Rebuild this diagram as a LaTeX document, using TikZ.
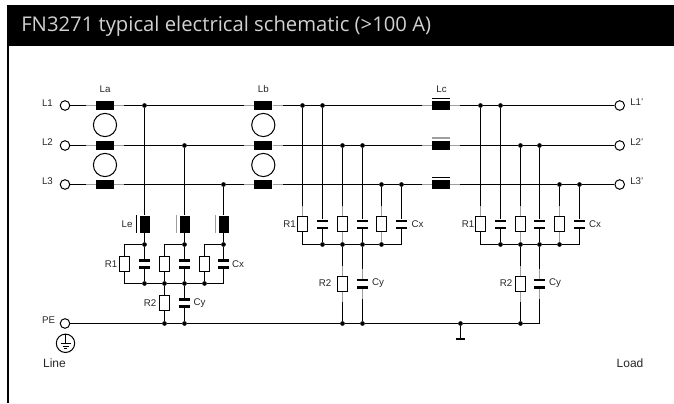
\documentclass[tikz,border=0pt]{standalone}
\usepackage{fontspec}
\setmainfont{Liberation Sans}
\newfontfamily\titlefont{Open Sans}
\definecolor{leadgray}{gray}{0.62}
\definecolor{titlegray}{gray}{0.82}
\tikzset{
	wire/.style={line width=0.8pt,black},
	lead/.style={line width=1.1pt,leadgray},
	term/.style={circle,draw,fill=white,line width=0.75pt,inner sep=0pt,minimum size=7.2pt},
	jdot/.style={circle,fill=black,inner sep=0pt,minimum size=3.5pt},
	ring/.style={circle,draw,line width=0.75pt,inner sep=0pt,minimum size=17.4pt},
	indh/.style={rectangle,fill=black,inner sep=0pt,minimum width=13.5pt,minimum height=7.2pt},
	indv/.style={rectangle,fill=black,inner sep=0pt,minimum width=7.5pt,minimum height=12.8pt},
	res/.style={rectangle,draw,fill=white,line width=0.75pt,inner sep=0pt,minimum width=6.9pt,minimum height=11.2pt},
	capa/.style={rectangle,inner sep=0pt,minimum width=8.6pt,minimum height=7.2pt,
		path picture={
			\fill (path picture bounding box.north west) rectangle ([yshift=-1.9pt]path picture bounding box.north east);
			\fill (path picture bounding box.south west) rectangle ([yshift=1.9pt]path picture bounding box.south east);
		}},
	lbl/.style={inner sep=0pt,text=black!85,font=\fontsize{7.3}{8}\selectfont},
	biglbl/.style={inner sep=0pt,text=black!85,font=\fontsize{9}{10}\selectfont},
}
\begin{document}
\begin{tikzpicture}[x=0.75pt,y=-0.75pt]
	\useasboundingbox (0,0) rectangle (674,403);

	% The Header
	\fill[black] (7,5) rectangle (674,46.5);
	\fill[black] (7,46.5) rectangle (9,403);
	\node[inner sep=0pt,anchor=west,text=titlegray,font=\titlefont\fontsize{15.2}{17}\selectfont] (title) at (21,26) {FN3271 typical electrical schematic (>100 A)};

	% Terminals
	\node[term] (L1in) at (65,105.5) {};
	\node[term] (L2in) at (65,145.5) {};
	\node[term] (L3in) at (65,184.5) {};
	\node[term] (PEin) at (65,323.5) {};
	\node[term] (L1out) at (619.7,105.5) {};
	\node[term] (L2out) at (619.7,145.5) {};
	\node[term] (L3out) at (619.7,184.5) {};
	\node[lbl] (tL1) at (47.5,103) {L1};
	\node[lbl] (tL2) at (47.5,142) {L2};
	\node[lbl] (tL3) at (47.5,181) {L3};
	\node[lbl] (tPE) at (48.5,320.5) {PE};
	\node[lbl,anchor=west] (tL1o) at (630,102) {L1'};
	\node[lbl,anchor=west] (tL2o) at (630,142) {L2'};
	\node[lbl,anchor=west] (tL3o) at (630,181.5) {L3'};

	% Earth symbol
	\node[circle,draw,line width=0.75pt,inner sep=0pt,minimum size=13.8pt] (earth) at (65.5,343.3) {};
	\draw[line width=0.6pt] (earth.north) -- (earth.center);
	\draw[line width=0.6pt] (60.5,343.5) -- (70.5,343.5);
	\draw[line width=0.6pt] (62.5,346) -- (68.5,346);
	\draw[line width=0.6pt] (64,348.5) -- (67,348.5);
	\node[biglbl] (line) at (54.5,363) {Line};
	\node[biglbl] (load) at (630,363) {Load};

	% Chokes La, Lb, Lc
	\node[indh] (La1) at (105,105.5) {};
	\node[indh] (La2) at (105,145.5) {};
	\node[indh] (La3) at (105,184.5) {};
	\node[indh] (Lb1) at (263.3,105.5) {};
	\node[indh] (Lb2) at (263.3,145.5) {};
	\node[indh] (Lb3) at (263.3,184.5) {};
	\node[indh] (Lc1) at (441,105.5) {};
	\node[indh] (Lc2) at (441,145.5) {};
	\node[indh] (Lc3) at (441,184.5) {};
	\node[ring] (RaA) at (105,125) {};
	\node[ring] (RaB) at (105,165) {};
	\node[ring] (RbA) at (263.3,125) {};
	\node[ring] (RbB) at (263.3,165) {};
	\node[lbl] (tLa) at (105,89) {La};
	\node[lbl] (tLb) at (263.3,89) {Lb};
	\node[lbl] (tLc) at (441.5,89) {Lc};
	\draw[line width=0.75pt] ([yshift=1.8pt]Lc1.north west) -- ([yshift=1.8pt]Lc1.north east);
	\draw[lead] ([yshift=1.8pt]Lc2.north west) -- ([yshift=1.8pt]Lc2.north east);
	\draw[line width=0.75pt] ([yshift=1.8pt]Lc3.north west) -- ([yshift=1.8pt]Lc3.north east);

	% Stage 1
	\node[jdot] (Da1) at (144.5,105.5) {};
	\node[jdot] (Da2) at (184.5,145.5) {};
	\node[jdot] (Da3) at (223.5,184.5) {};
	\node[indv] (Le1) at (144.5,224.2) {};
	\node[indv] (Le2) at (184.5,224.2) {};
	\node[indv] (Le3) at (223.5,224.2) {};
	\draw[line width=0.75pt] ([xshift=-1.9pt]Le1.north west) -- ([xshift=-1.9pt]Le1.south west);
	\draw[lead] ([xshift=-1.9pt]Le2.north west) -- ([xshift=-1.9pt]Le2.south west);
	\draw[lead] ([xshift=-1.9pt]Le3.north west) -- ([xshift=-1.9pt]Le3.south west);
	\node[jdot] (Ea1) at (144.5,244.5) {};
	\node[jdot] (Ea2) at (184.5,244.5) {};
	\node[jdot] (Ea3) at (223.5,244.5) {};
	\node[res] (Ra1) at (124.5,264) {};
	\node[res] (Ra2) at (164.5,264) {};
	\node[res] (Ra3) at (204.5,264) {};
	\node[capa] (Ca1) at (144.5,263.8) {};
	\node[capa] (Ca2) at (184.5,263.8) {};
	\node[capa] (Ca3) at (223.5,263.8) {};
	\node[jdot] (Ba1) at (144.5,283.5) {};
	\node[jdot] (Ba2) at (164.5,283.5) {};
	\node[jdot] (Ba3) at (184.5,283.5) {};
	\node[jdot] (Ba4) at (204.5,283.5) {};
	\node[res] (Sa) at (164.5,303.3) {};
	\node[capa] (Ya) at (184.5,303) {};
	\node[jdot] (Pa1) at (164.5,323.5) {};
	\node[jdot] (Pa2) at (184.5,323.5) {};
	\node[lbl] (tLe) at (127,224.5) {Le};
	\node[lbl] (tR1a) at (111,264.5) {R1};
	\node[lbl] (tCxa) at (238,264.5) {Cx};
	\node[lbl] (tR2a) at (150,303.5) {R2};
	\node[lbl] (tCya) at (199.5,303.5) {Cy};

	% Stage 2
	\node[jdot] (Db1) at (302.5,105.5) {};
	\node[jdot] (Db2) at (322.5,105.5) {};
	\node[jdot] (Db3) at (342.5,145.5) {};
	\node[jdot] (Db4) at (362.5,145.5) {};
	\node[jdot] (Db5) at (381.5,184.5) {};
	\node[jdot] (Db6) at (401.5,184.5) {};
	\node[res] (Rb1) at (302.5,224.2) {};
	\node[res] (Rb2) at (342.5,224.2) {};
	\node[res] (Rb3) at (381.5,224.2) {};
	\node[capa] (Cb1) at (322.5,224.3) {};
	\node[capa] (Cb2) at (362.5,224.3) {};
	\node[capa] (Cb3) at (401.5,224.3) {};
	\node[jdot] (Bb1) at (322.5,244.5) {};
	\node[jdot] (Bb2) at (342.5,244.5) {};
	\node[jdot] (Bb3) at (362.5,244.5) {};
	\node[jdot] (Bb4) at (381.5,244.5) {};
	\node[res] (Sb) at (342.5,284) {};
	\node[capa] (Yb) at (362.5,283.7) {};
	\node[jdot] (Pb1) at (342.5,323.5) {};
	\node[jdot] (Pb2) at (362.5,323.5) {};
	\node[lbl] (tR1b) at (289.5,224.5) {R1};
	\node[lbl] (tCxb) at (417.5,224.5) {Cx};
	\node[lbl] (tR2b) at (325,283.5) {R2};
	\node[lbl] (tCyb) at (378,283.5) {Cy};

	% Stage 3
	\node[jdot] (Dc1) at (480.5,105.5) {};
	\node[jdot] (Dc2) at (500.5,105.5) {};
	\node[jdot] (Dc3) at (520.5,145.5) {};
	\node[jdot] (Dc4) at (539.5,145.5) {};
	\node[jdot] (Dc5) at (559.5,184.5) {};
	\node[jdot] (Dc6) at (579.5,184.5) {};
	\node[res] (Rc1) at (480.5,224.2) {};
	\node[res] (Rc2) at (520.5,224.2) {};
	\node[res] (Rc3) at (559.5,224.2) {};
	\node[capa] (Cc1) at (500.5,224.3) {};
	\node[capa] (Cc2) at (539.5,224.3) {};
	\node[capa] (Cc3) at (579.5,224.3) {};
	\node[jdot] (Bc1) at (500.5,244.5) {};
	\node[jdot] (Bc2) at (520.5,244.5) {};
	\node[jdot] (Bc3) at (539.5,244.5) {};
	\node[jdot] (Bc4) at (559.5,244.5) {};
	\node[res] (Sc) at (520.5,284) {};
	\node[capa] (Yc) at (539.5,283.7) {};
	\node[jdot] (Pc) at (520.5,323.5) {};
	\node[lbl] (tR1c) at (468,224.5) {R1};
	\node[lbl] (tCxc) at (595,224.5) {Cx};
	\node[lbl] (tR2c) at (506,283.5) {R2};
	\node[lbl] (tCyc) at (555,283.5) {Cy};

	% Ground stub
	\node[jdot] (Gd) at (460.5,323.5) {};
	\node[rectangle,fill=black,inner sep=0pt,minimum width=7.4pt,minimum height=1.6pt] (Gb) at (460.5,339.2) {};

	% The Lines
	\draw[wire] (L1in) -- (La1) -- (Da1) -- (Lb1) -- (Db1) -- (Db2) -- (Lc1) -- (Dc1) -- (Dc2) -- (L1out);
	\draw[wire] (L2in) -- (La2) -- (Da2) -- (Lb2) -- (Db3) -- (Db4) -- (Lc2) -- (Dc3) -- (Dc4) -- (L2out);
	\draw[wire] (L3in) -- (La3) -- (Da3) -- (Lb3) -- (Db5) -- (Db6) -- (Lc3) -- (Dc5) -- (Dc6) -- (L3out);
	\draw[wire] (PEin) -- (Pa1) -- (Pa2) -- (Pb1) -- (Pb2) -- (Gd) -- (Pc) -| (Yc);
	\draw[wire] (Gd) -- (Gb);

	% Wires stage 1
	\draw[wire] (Da1) -- (Le1) -- (Ea1) -- (Ca1) -- (Ba1);
	\draw[wire] (Da2) -- (Le2) -- (Ea2) -- (Ca2) -- (Ba3);
	\draw[wire] (Da3) -- (Le3) -- (Ea3) -- (Ca3);
	\draw[wire] (Ea1) -| (Ra1);
	\draw[wire] (Ea2) -| (Ra2);
	\draw[wire] (Ea3) -| (Ra3);
	\draw[wire] (Ra1) |- (Ba1);
	\draw[wire] (Ra2) -- (Ba2);
	\draw[wire] (Ra3) -- (Ba4);
	\draw[wire] (Ba1) -- (Ba2) -- (Ba3) -- (Ba4) -| (Ca3);
	\draw[wire] (Ba2) -- (Sa) -- (Pa1);
	\draw[wire] (Ba3) -- (Ya) -- (Pa2);

	% Wires stage 2
	\draw[wire] (Db1) -- (Rb1);
	\draw[wire] (Db2) -- (Cb1) -- (Bb1);
	\draw[wire] (Db3) -- (Rb2) -- (Bb2);
	\draw[wire] (Db4) -- (Cb2) -- (Bb3);
	\draw[wire] (Db5) -- (Rb3) -- (Bb4);
	\draw[wire] (Db6) -- (Cb3);
	\draw[wire] (Rb1) |- (Bb1);
	\draw[wire] (Bb1) -- (Bb2) -- (Bb3) -- (Bb4) -| (Cb3);
	\draw[wire] (Bb2) -- (Sb) -- (Pb1);
	\draw[wire] (Bb3) -- (Yb) -- (Pb2);

	% Wires stage 3
	\draw[wire] (Dc1) -- (Rc1);
	\draw[wire] (Dc2) -- (Cc1) -- (Bc1);
	\draw[wire] (Dc3) -- (Rc2) -- (Bc2);
	\draw[wire] (Dc4) -- (Cc2) -- (Bc3);
	\draw[wire] (Dc5) -- (Rc3) -- (Bc4);
	\draw[wire] (Dc6) -- (Cc3);
	\draw[wire] (Rc1) |- (Bc1);
	\draw[wire] (Bc1) -- (Bc2) -- (Bc3) -- (Bc4) -| (Cc3);
	\draw[wire] (Bc2) -- (Sc) -- (Pc);
	\draw[wire] (Bc3) -- (Yc);

	% Grey leads on the chokes
	\draw[lead] (La1.west) -- ++(-10,0) (La1.east) -- ++(10,0);
	\draw[lead] (La2.west) -- ++(-10,0) (La2.east) -- ++(10,0);
	\draw[lead] (La3.west) -- ++(-10,0) (La3.east) -- ++(10,0);
	\draw[lead] (Lb1.west) -- ++(-10,0) (Lb1.east) -- ++(10,0);
	\draw[lead] (Lb2.west) -- ++(-10,0) (Lb2.east) -- ++(10,0);
	\draw[lead] (Lb3.west) -- ++(-10,0) (Lb3.east) -- ++(10,0);
	\draw[lead] (Lc1.west) -- ++(-10,0) (Lc1.east) -- ++(10,0);
	\draw[lead] (Lc2.west) -- ++(-10,0) (Lc2.east) -- ++(10,0);
	\draw[lead] (Lc3.west) -- ++(-10,0) (Lc3.east) -- ++(10,0);

	% Grey leads on the lower parts
	\draw[lead] (Rb1.north) -- ++(0,-10) (Rb2.north) -- ++(0,-10) (Rb2.south) -- ++(0,10) (Rb3.north) -- ++(0,-10) (Rb3.south) -- ++(0,10);
	\draw[lead] (Sb.north) -- ++(0,-10) (Sb.south) -- ++(0,10) (Yb.north) -- ++(0,-10) (Yb.south) -- ++(0,10);
	\draw[lead] (Rc1.north) -- ++(0,-10) (Rc2.north) -- ++(0,-10) (Rc2.south) -- ++(0,10) (Rc3.north) -- ++(0,-10) (Rc3.south) -- ++(0,10);
	\draw[lead] (Sc.north) -- ++(0,-10) (Sc.south) -- ++(0,10) (Yc.north) -- ++(0,-10) (Yc.south) -- ++(0,10);

\end{tikzpicture}
\end{document}
